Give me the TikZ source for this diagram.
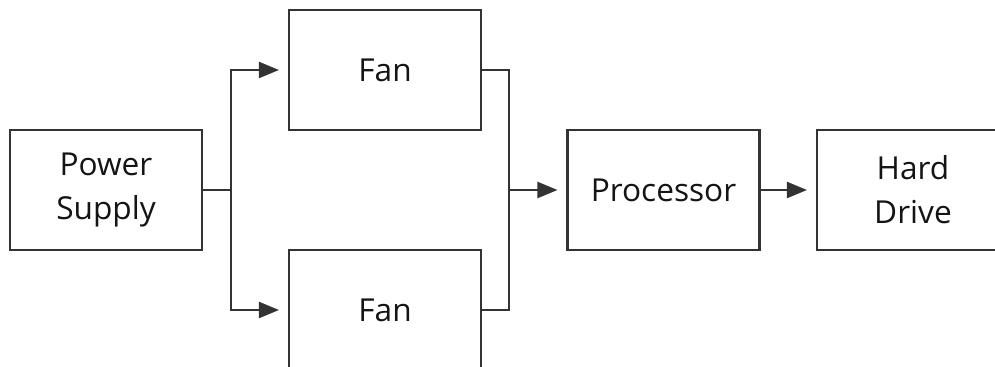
\documentclass[tikz,border=0pt]{standalone}
\usepackage{fontspec}
\setmainfont{Open Sans}
\usetikzlibrary{arrows.meta}

\tikzset{
    block/.style={draw=black!80,
        line width=1.2pt,
        minimum width=3.84cm,
        minimum height=2.4cm,
        align=center,
        text=black!92,
        font=\fontsize{18}{25}\selectfont
    },
    wire/.style={draw=black!80, line width=1.2pt},
    flow/.style={wire,
        -{Triangle[length=0.4cm,width=0.32cm]},
        shorten >=0.18cm
    },
}

\begin{document}
\begin{tikzpicture}

% page frame, boxes running off the edge are cut here
\fill[white] (0,0) rectangle (19.9,-7.34);
\clip (0,0) rectangle (19.9,-7.34);

% Supply
\node (psu) [block] at (2.12,-3.8) {Power\\Supply};

% Fans
\node (fantop) [block] at (7.7,-1.4) {Fan};
\node (fanbot) [block] at (7.7,-6.2) {Fan};

% Processor and disk
\node (cpu) [block] at (13.27,-3.8) {Processor};
\node (hdd) [block] at (18.26,-3.8) {Hard\\Drive};

\coordinate (split) at (4.62,-3.8);
\coordinate (join) at (10.18,-3.8);

% supply -> fans
\draw [wire] (psu.east) -- (split);
\draw [flow] (split) |- (fantop.west);
\draw [flow] (split) |- (fanbot.west);

% fans -> processor
\draw [wire] (fantop.east) -| (join);
\draw [wire] (fanbot.east) -| (join);
\draw [flow] (join) -- (cpu.west);

% processor -> disk
\draw [flow] (cpu.east) -- (hdd.west);

\end{tikzpicture}
\end{document}
